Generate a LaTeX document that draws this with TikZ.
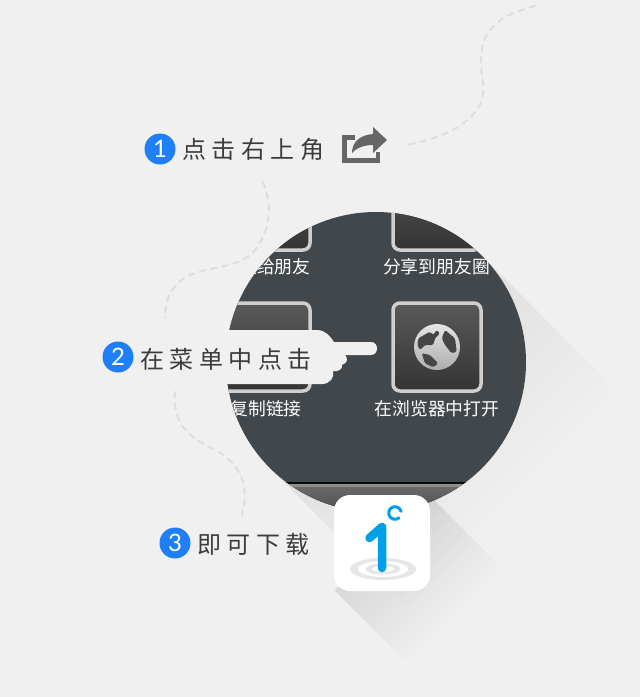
\documentclass[tikz,border=0pt]{standalone}
\usepackage{fontspec}
\usetikzlibrary{fadings}
\newfontfamily\hw[LetterSpace=23]{Noto Sans CJK SC}
\newfontfamily\ui{Noto Sans CJK SC}
\newfontfamily\dg{Lato}
\definecolor{bgc}{HTML}{F0F0F0}
\definecolor{disc}{HTML}{41474B}
\definecolor{blueb}{HTML}{1F7FF8}
\definecolor{dashc}{HTML}{DEDEDE}
\definecolor{inkc}{HTML}{3C3C3C}
\definecolor{iconc}{HTML}{666666}
\definecolor{onec}{HTML}{00A0E9}
\definecolor{ripple}{HTML}{E6E6E6}
\definecolor{tileedge}{HTML}{CFCFCF}
\definecolor{tiletop}{HTML}{595959}
\definecolor{tilebot}{HTML}{343434}
\definecolor{land}{HTML}{464646}
\definecolor{striptop}{HTML}{6A6A6A}
\definecolor{stripbot}{HTML}{4C4C4C}
\definecolor{stripline}{HTML}{8E8E8E}
\tikzfading[name=discfade, left color=transparent!93, right color=transparent!100]
\tikzfading[name=iconfade, left color=transparent!90, right color=transparent!100]
\tikzset{
  x=1pt,y=-1pt,
  trail/.style={draw=dashc,line width=2pt,dash pattern=on 6pt off 5.5pt,line cap=round},
  numdot/.style={circle,fill=blueb,minimum size=31pt,inner sep=0pt,text=white,font=\dg\fontsize{24}{24}\selectfont},
  hand/.style={font=\hw\fontsize{24}{24}\selectfont,text=inkc,anchor=west,inner sep=0pt},
  tilebox/.style={draw=tileedge,line width=3.5pt,rounded corners=7pt,top color=tiletop,bottom color=tilebot},
  tilelabel/.style={font=\ui\fontsize{17.8}{17.8}\selectfont,text=white,inner sep=0pt},
  landmass/.style={fill=land,rounded corners=1.5pt},
}
\begin{document}
\begin{tikzpicture}
\useasboundingbox (0,0) rectangle (640,697);
\fill[bgc] (0,0) rectangle (640,697);
% trails
\draw[trail] (535,6) .. controls (505,14) and (481,25) .. (481,60) .. controls (481,85) and (492,100) .. (465,122) .. controls (450,134) and (425,142) .. (405,145);
\draw[trail] (263,182) .. controls (270,200) and (274,225) .. (255,250) .. controls (240,268) and (215,265) .. (190,275) .. controls (170,285) and (165,300) .. (165,318);
\draw[trail] (175,392) .. controls (172,425) and (190,438) .. (215,450) .. controls (240,463) and (250,485) .. (242,515);
% long shadows
\begin{scope}[transform canvas={shift={(376pt,-362pt)},rotate=-45}]
  \fill[black,path fading=discfade] (0,-150) rectangle (200,150);
\end{scope}
\begin{scope}[transform canvas={shift={(382pt,-543pt)},rotate=-45}]
  \fill[black,path fading=iconfade] (0,-67) rectangle (105,67);
\end{scope}
% disc
\fill[disc] (376,362) circle (150);
\begin{scope}
  \clip (376,362) circle (150);
  \draw[tilebox] (393,160) rectangle (481,250);
  \draw[tilebox] (222,160) rectangle (310,250);
  \draw[tilebox] (222,303) rectangle (310,391);
  \draw[tilebox] (393,303) rectangle (481,391);
  \node[circle,minimum size=46pt,inner sep=0pt,top color=white!90!black,bottom color=white!68!black] (globe) at (437,347) {};
  \fill[landmass] (418.3,338.3) -- (430,331.7) -- (433.3,335) -- (436.7,330) -- (440,333.3) -- (435,338.3) -- (433.3,345) -- (425,345) -- (420,350) -- (417.3,345) -- cycle;
  \fill[landmass] (445,330) -- (455,338.3) -- (456.7,351.7) -- (451.7,353.3) -- (445,345) -- (441.7,338.3) -- cycle;
  \fill[landmass] (421.7,353.3) -- (430,355) -- (438.3,363.3) -- (433.3,367.3) -- (425,363.3) -- cycle;
  \node[tilelabel] (l1) at (266,267) {发送给朋友};
  \node[tilelabel] (l2) at (436.5,267) {分享到朋友圈};
  \node[tilelabel] (l3) at (266,409) {复制链接};
  \node[tilelabel] (l4) at (437,409) {在浏览器中打开};
  \shade[top color=striptop,bottom color=stripbot] (226,486) rectangle (526,514);
  \fill[stripline] (226,484.2) rectangle (526,486.5);
  \fill[black!85!disc] (226,482) rectangle (526,484.2);
\end{scope}
% pointing hand
\fill[bgc] (200,330) -- (318,330) .. controls (326,331) and (330,336) .. (334,342) -- (371,342) .. controls (379,342) and (379,355) .. (371,355) -- (345,355) .. controls (348,358) and (348,363) .. (342,365) .. controls (343,369) and (338,372) .. (333,371) .. controls (335,377) and (330,384) .. (322,384) -- (200,384) -- cycle;
% icon tile
\fill[white,rounded corners=16pt] (334,495) rectangle (430,591);
\fill[ripple] (383,569) ellipse [x radius=33,y radius=11];
\fill[white] (383,569) ellipse [x radius=25,y radius=8];
\fill[ripple] (383,569) ellipse [x radius=17.5,y radius=5.5];
\fill[white] (383,569) ellipse [x radius=11,y radius=3];
\draw[onec,line width=8.5pt,line cap=round,line join=round] (369.5,538) -- (382,527) -- (382,568);
\draw[onec,line width=3pt,line cap=round] (401.1,511.4) arc [start angle=15,end angle=310,radius=6.3pt];
% share icon
\draw[iconc,line width=4.5pt] (355,137.5) -- (344.5,137.5) -- (344.5,160.5) -- (378,160.5) -- (378,152);
\fill[iconc] (387,140) -- (373,127) -- (373,134) .. controls (360,135) and (352,142) .. (352,153) .. controls (356,148) and (364,145) .. (373,145) -- (373,153) -- cycle;
% steps
\node[numdot] (n1) at (160,149) {1};
\node[hand] (t1) at (182,149) {点击右上角};
\node[numdot] (n2) at (118,357) {2};
\node[hand] (t2) at (140,359) {在菜单中点击};
\node[numdot] (n3) at (175,543) {3};
\node[hand] (t3) at (197,544) {即可下载};
\end{tikzpicture}
\end{document}
